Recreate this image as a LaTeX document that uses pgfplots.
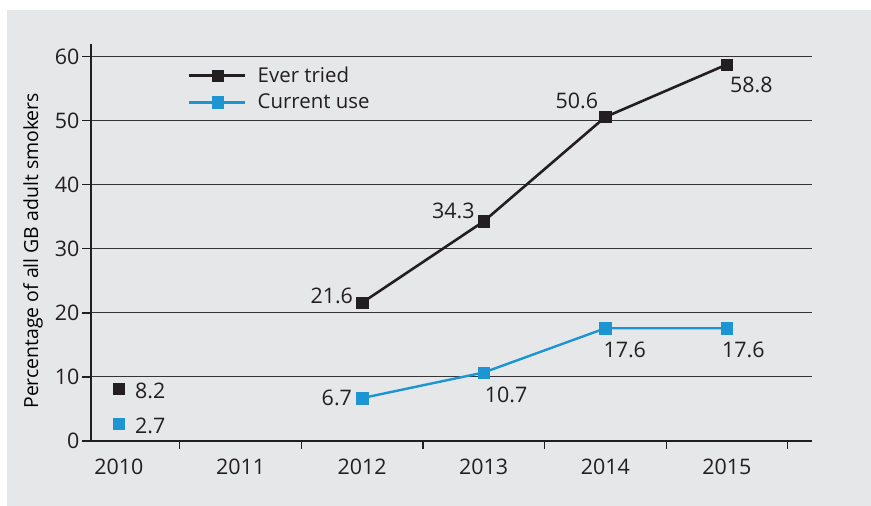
\documentclass[border=0pt]{standalone}
\usepackage{fontspec}
\setmainfont{Open Sans}
\usepackage{pgfplots}
\pgfplotsset{compat=1.18}
\definecolor{bg}{HTML}{E6E7E9}
\definecolor{ink}{HTML}{231F20}
\definecolor{gridc}{HTML}{353537}
\definecolor{cblue}{HTML}{1E95D3}
\pgfplotsset{
  lbl/.style={
    nodes near coords,
    point meta=explicit symbolic,
    visualization depends on={value \thisrow{anc}\as\anc},
    visualization depends on={value \thisrow{dx}\as\dx},
    visualization depends on={value \thisrow{dy}\as\dy},
    every node near coord/.append style={anchor=\anc, xshift=\dx bp, yshift=\dy bp,
      inner sep=0pt, text=ink, font=\fontsize{21.5}{25}\selectfont},
  },
}
\begin{document}
\begin{tikzpicture}[x=1bp,y=1bp]
\useasboundingbox (0,0) rectangle (871,506);
\fill[bg] (7,0) rectangle (871,496);
\begin{axis}[
  at={(91bp,65bp)}, anchor=south west,
  scale only axis, width=721bp, height=397bp,
  xmin=-0.23, xmax=5.70, ymin=0, ymax=62,
  axis x line=bottom, axis y line=left,
  axis line style={line width=1.3bp, color=ink, -},
  xtick={0,1,2,3,4,5},
  xticklabels={2010,2011,2012,2013,2014,2015},
  minor xtick={0.5,1.5,2.5,3.5,4.5,5.5},
  ytick={0,10,20,30,40,50,60},
  tick align=outside,
  major tick length=9bp, minor tick length=8bp,
  major x tick style={draw=none},
  tick style={color=ink, line width=1.2bp},
  ymajorgrids, major grid style={gridc, line width=1bp},
  tick label style={font=\fontsize{21.5}{25}\selectfont, text=ink},
  /pgf/number format/assume math mode=true,
  xticklabel style={yshift=-5bp},
  yticklabel style={xshift=1bp},
  every axis y label/.style={at={(axis description cs:-0.0804,0.479)}, anchor=center, rotate=90},
  ylabel={\fontsize{19.5}{23}\selectfont Percentage of all GB adult smokers},
  legend style={at={(axis cs:0.567,55.0)}, anchor=west, draw=none, fill=none,
    inner sep=0pt, row sep=8bp, font=\fontsize{20.5}{24}\selectfont, text=ink,
    nodes={inner xsep=0pt, inner ysep=1bp},
    /tikz/every odd column/.append style={column sep=11bp}},
  legend cell align=left,
  legend image code/.code={\draw[#1, line width=2.6bp, mark repeat=2, mark phase=2] plot coordinates {(0bp,0bp) (28bp,0bp) (56bp,0bp)};},
  clip=false,
]
\addplot[ink, line width=2.6bp, mark=square*, mark size=5.7bp, mark options={solid, line width=0.4bp}, lbl]
  table[col sep=comma, x=x, y=y, meta=lab] {
x,y,lab,anc,dx,dy
2,21.6,21.6,south east,-9,-1
3,34.3,34.3,south east,-9,2.5
4,50.6,50.6,south east,-7,8
5,58.8,58.8,north west,3,-12
};
\addlegendentry{Ever tried}
\addplot[cblue, line width=2.4bp, mark=square*, mark size=5.7bp, mark options={solid, line width=0.4bp}, lbl]
  table[col sep=comma, x=x, y=y, meta=lab] {
x,y,lab,anc,dx,dy
2,6.7,6.7,east,-10,0
3,10.7,10.7,north west,1,-14
4,17.6,17.6,north west,-2,-13.6
5,17.6,17.6,north west,-5,-13.6
};
\addlegendentry{Current use}
\addplot[ink, only marks, mark=square*, mark size=5.7bp, mark options={solid, line width=0.4bp}, lbl, forget plot]
  table[col sep=comma, x=x, y=y, meta=lab] {
x,y,lab,anc,dx,dy
0,8.2,8.2,west,16,-2.5
};
\addplot[cblue, only marks, mark=square*, mark size=5.7bp, mark options={solid, line width=0.4bp}, lbl, forget plot]
  table[col sep=comma, x=x, y=y, meta=lab] {
x,y,lab,anc,dx,dy
0,2.7,2.7,west,16,-2
};
\end{axis}
\end{tikzpicture}
\end{document}
